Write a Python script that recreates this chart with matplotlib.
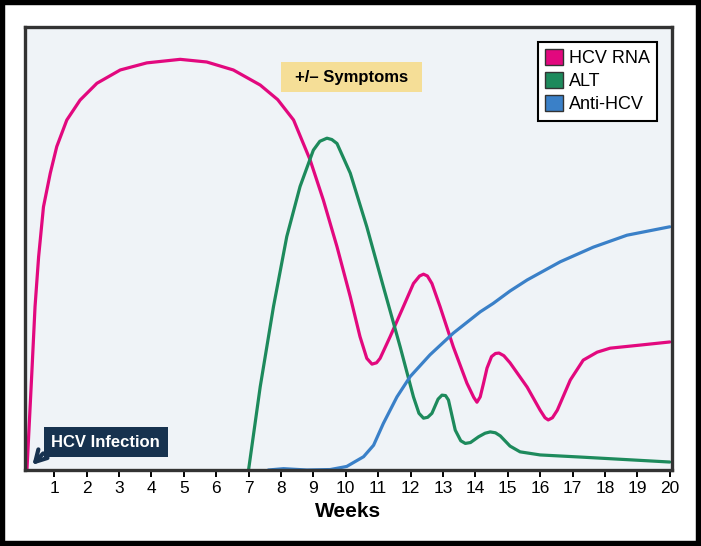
import numpy as np
import matplotlib
matplotlib.use("Agg")
import matplotlib.pyplot as plt
from matplotlib.patches import Patch, Rectangle

plt.rcParams['font.family'] = ['Liberation Sans', 'DejaVu Sans']

# values (weeks, relative level 0-100)
rna_weeks = [0.16, 0.31, 0.41, 0.52, 0.67, 0.88, 1.08, 1.39, 1.80, 2.32, 3.04, 3.86,
             4.89, 5.71, 6.53, 7.36, 7.9, 8.39, 8.90, 9.31, 9.73, 10.14, 10.44, 10.65,
             10.81, 10.95, 11.06, 11.37, 11.78, 12.09, 12.28, 12.40, 12.52, 12.66,
             12.91, 13.32, 13.74, 13.95, 14.05, 14.15, 14.25, 14.36, 14.5, 14.62,
             14.73, 14.88, 15.07, 15.6, 16.0, 16.15, 16.25, 16.38, 16.53, 16.93,
             17.33, 17.76, 18.16, 19.09, 20.0]
rna_level = [0, 21.8, 36.9, 48.1, 59.4, 67.0, 73.0, 79.0, 83.5, 87.3, 90.3, 91.9,
             92.7, 92.1, 90.3, 86.9, 83.6, 79.0, 70.0, 60.9, 50.4, 39.1, 30.1, 25.2,
             23.9, 24.2, 25.2, 30.1, 36.9, 42.1, 43.8, 44.2, 43.8, 42.1,
             36.9, 27.8, 19.6, 16.4, 15.3, 16.5, 19.5, 23.0, 25.6, 26.3,
             26.4, 25.8, 24.2, 18.7, 13.5, 11.8, 11.3, 11.8, 13.5, 20.3,
             24.8, 26.6, 27.5, 28.2, 28.9]

alt_weeks = [7.0, 7.36, 7.77, 8.18, 8.59, 9.0, 9.2, 9.42, 9.57, 9.73, 10.14, 10.65,
             11.16, 11.68, 12.09, 12.26, 12.40, 12.53, 12.66, 12.85, 12.97, 13.08,
             13.17, 13.38, 13.55, 13.69, 13.85, 14.10, 14.3, 14.46, 14.62, 14.77,
             15.07, 15.38, 16.0, 17.3, 20.0]
alt_level = [0, 18.8, 36.9, 52.7, 64.0, 72.2, 74.2, 74.9, 74.6, 73.7, 67.0, 54.9,
             41.4, 27.8, 16.5, 12.8, 11.7, 11.9, 12.8, 16.0, 16.9, 16.8,
             15.8, 9.0, 6.6, 6.0, 6.2, 7.5, 8.3, 8.6, 8.4, 7.7,
             5.4, 4.1, 3.4, 2.9, 1.8]

anti_weeks = [7.61, 8.08, 8.8, 9.52, 10.03, 10.55, 10.86, 11.16, 11.58, 11.99, 12.60,
              13.32, 14.15, 14.55, 15.07, 15.6, 16.62, 17.64, 18.68, 20.0]
anti_level = [0, 0.3, 0, 0.1, 0.8, 3.0, 5.6, 10.5, 16.5, 21.1, 26.0,
              30.9, 35.7, 37.6, 40.4, 42.9, 47.0, 50.3, 53.0, 54.9]

series_names = ["HCV RNA", "ALT", "Anti-HCV"]
series_colors = ["#e2087e", "#1d8a5c", "#3a80c8"]
week_ticks = list(range(1, 21))

fig = plt.figure(figsize=(7.01, 5.46), dpi=100)
ax = fig.add_axes([25 / 701, 76 / 546, 647 / 701, 443 / 546])
ax.set_facecolor("#eff3f7")

for wk, lv, col in [(rna_weeks, rna_level, series_colors[0]),
                    (alt_weeks, alt_level, series_colors[1]),
                    (anti_weeks, anti_level, series_colors[2])]:
    ax.plot(wk, lv, color=col, lw=2.3, solid_capstyle='round', solid_joinstyle='round')

ax.set_xlim(0.1, 20.07)
ax.set_ylim(0, 100)
ax.set_xticks(week_ticks)
ax.set_yticks([])
ax.tick_params(axis='x', length=5, width=1.4, color='black', direction='out',
               labelsize=12.5, pad=3)
for sp in ax.spines.values():
    sp.set_color('#333333')
    sp.set_linewidth(2.4)
ax.set_xlabel("Weeks", fontsize=15, fontweight='bold', labelpad=4)

# annotations
ax.text(2.59, 6.3, "HCV Infection", color='white', fontsize=12, fontweight='bold',
        ha='center', va='center',
        bbox=dict(boxstyle='square,pad=0.45', fc='#17324f', ec='none'))
ax.annotate("", xy=(0.27, 0.7), xytext=(0.72, 4.2),
            arrowprops=dict(arrowstyle='->,head_length=0.8,head_width=0.45',
                            color='#17324f', lw=3.0))

ax.add_patch(Rectangle((8.01, 85.3), 4.35, 6.8, fc='#f5de97', ec='none', zorder=3))
ax.text(10.18, 88.7, "+/\u2013 Symptoms", color='black', fontsize=12, fontweight='bold',
        ha='center', va='center', zorder=4)

handles = [Patch(facecolor=c, edgecolor='#333333', lw=1.0) for c in series_colors]
leg = ax.legend(handles, series_names, loc='upper right', bbox_to_anchor=(0.977, 0.966),
                fontsize=13, frameon=True, fancybox=False, framealpha=1,
                handlelength=0.95, handleheight=0.95, handletextpad=0.35,
                labelspacing=0.28, borderpad=0.4, borderaxespad=0)
leg.get_frame().set_edgecolor('black')
leg.get_frame().set_linewidth(1.5)

# outer black border
fig.patches.append(Rectangle((0, 0), 1, 1, transform=fig.transFigure, fill=False,
                             ec='black', lw=7.5, clip_on=False))

fig.savefig("out.png", dpi=100)
